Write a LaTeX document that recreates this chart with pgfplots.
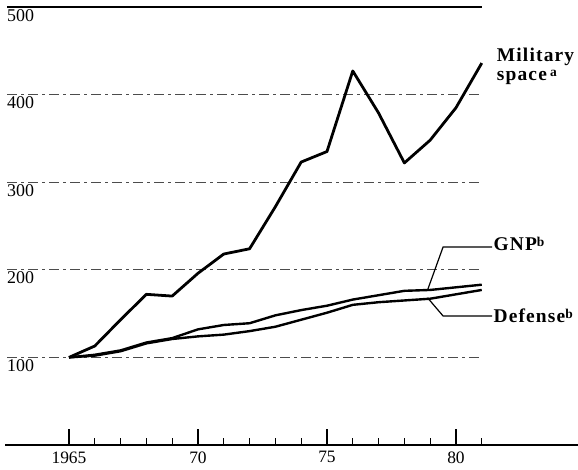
\documentclass[border=0pt]{standalone}
\usepackage{fontspec}
\setmainfont{Liberation Serif}
\usepackage{pgfplots}
\usepackage{pgfplotstable}
\pgfplotsset{compat=1.18}

% index, 1965 = 100
\pgfplotstableread{
year military gnp defense
1965 100 100 100
1966 113 103 102
1967 143 108 107
1968 172 117 116
1969 170 122 121
1970 196 132 124
1971 218 137 126
1972 224 139 130
1973 272 148 135
1974 323 154 143
1975 335 159 151
1976 427 166 160
1977 379 171 163
1978 322 176 165
1979 348 177 167
1980 385 180 172
1981 436 183 177
}\spending

\newcommand\lab{\fontsize{19.5}{19}\bfseries\addfontfeatures{LetterSpace=6}}
\newcommand\fn[1]{\raisebox{0.45ex}{\fontsize{13.5}{13}\selectfont #1}}

\begin{document}
\begin{tikzpicture}
\path[use as bounding box] (-5bp,-25bp) rectangle (573bp,445bp);
\begin{axis}[
  scale only axis, width=573bp, height=438bp,
  xmin=1962.52, xmax=1984.73, ymin=0, ymax=500,
  axis x line=bottom, axis y line=none,
  axis line style={-, line width=1.2pt},
  xtick={1965,1970,1975,1980}, xticklabels={1965,70,75,80},
  minor xtick={1966,1967,1968,1969,1971,1972,1973,1974,1976,1977,1978,1979,1981},
  xtick align=inside,
  major tick length=16bp, minor tick length=7bp,
  every tick/.style={line width=1.2pt, black},
  ytick=\empty,
  clip=false,
  font=\fontsize{18}{20}\selectfont,
  ticklabel style={font=\fontsize{17.5}{20}\selectfont},
  /pgf/number format/assume math mode=true,
  xticklabel style={yshift=-3bp},
  every axis plot/.append style={black, line join=round, no marks},
]
% broken grid lines
\pgfplotsinvokeforeach{100,200,300,400}{
  \draw[black!70, line width=1bp, dash pattern=on 10bp off 4bp on 3bp off 4bp]
    (axis cs:1962.6,#1) -- (axis cs:1981,#1);
  \node[anchor=north west, inner sep=2bp] at (axis cs:1962.52,#1) {#1};
}
\draw[black, line width=1.4bp] (axis cs:1962.6,500) -- (axis cs:1981,500);
\node[anchor=north west, inner sep=2bp] at (axis cs:1962.52,500) {500};

\addplot[line width=2.8pt] table[x=year, y=military] {\spending};
\addplot[line width=2.4pt] table[x=year, y=gnp] {\spending};
\addplot[line width=2.4pt] table[x=year, y=defense] {\spending};

% labels and leaders
\node[anchor=north west, inner sep=0, align=left, font=\lab]
  at (axis cs:1981.58,453) {Military\\space\,\fn{a}};
\draw[line width=1.2pt] (axis cs:1978.9,177) -- (axis cs:1979.5,226) -- (axis cs:1981.4,226);
\draw[line width=1.2pt] (axis cs:1978.9,168) -- (axis cs:1979.5,147.3) -- (axis cs:1981.4,147.3);
\node[anchor=base west, inner sep=0, font=\lab] at (axis cs:1981.45,221.5) {GNP\fn{b}};
\node[anchor=base west, inner sep=0, font=\lab] at (axis cs:1981.45,139.3) {Defense\fn{b}};
\end{axis}
\end{tikzpicture}
\end{document}
